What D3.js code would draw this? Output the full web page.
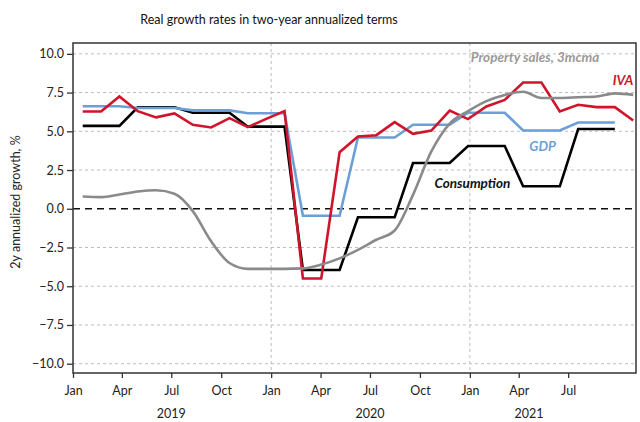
<!DOCTYPE html>
<html><head><meta charset="utf-8">
<script src="https://cdn.jsdelivr.net/npm/d3@7"></script>
<style>
body{margin:0;background:#fff;}
text{font-family:Lato,"Open Sans",sans-serif;}
</style>
</head><body>
<svg id="chart" width="640" height="422"></svg>
<script>
// ---- data ----
const months = ["2019-01","2019-02","2019-03","2019-04","2019-05","2019-06","2019-07","2019-08","2019-09","2019-10","2019-11","2019-12",
"2020-01","2020-02","2020-03","2020-04","2020-05","2020-06","2020-07","2020-08","2020-09","2020-10","2020-11","2020-12",
"2021-01","2021-02","2021-03","2021-04","2021-05","2021-06","2021-07"];
const iva = [6.28,6.28,7.25,6.3,5.9,6.15,5.42,5.25,5.85,5.27,5.8,6.3,
-4.5,-4.5,3.65,4.66,4.75,5.59,4.84,5.05,6.34,5.79,6.6,7.03,
8.15,8.15,6.28,6.71,6.56,6.56,5.7];
const gdp = [6.62,6.62,6.62,6.5,6.5,6.5,6.35,6.35,6.35,6.17,6.17,6.17,
-0.45,-0.45,-0.45,4.6,4.6,4.6,5.42,5.42,5.42,6.2,6.2,6.2,
5.05,5.05,5.05,5.57,5.57,5.57];
const consumption = [5.35,5.35,5.35,6.55,6.55,6.55,6.2,6.2,6.2,5.3,5.3,5.3,
-3.95,-3.95,-3.95,-0.55,-0.55,-0.55,2.95,2.95,2.95,4.05,4.05,4.05,
1.45,1.45,1.45,5.15,5.15,5.15];
const propertySales = [0.79,0.75,0.92,1.12,1.2,0.97,-0.15,-2.1,-3.5,-3.88,-3.88,-3.88,
-3.85,-3.6,-3.2,-2.65,-2.0,-1.4,0.9,3.7,5.5,6.3,6.95,7.35,
7.55,7.15,7.15,7.2,7.25,7.45,7.35];
const yTicks = [-10,-7.5,-5,-2.5,0,2.5,5,7.5,10];
const xTickDates = ["2019-01-01","2019-04-01","2019-07-01","2019-10-01","2020-01-01","2020-04-01","2020-07-01","2020-10-01","2021-01-01","2021-04-01","2021-07-01"];
const yearLabels = ["2019","2020","2021"];
const yearAnchors = ["2019-07-01","2020-07-01","2021-04-20"];
const vGridDates = ["2020-01-01","2021-01-01"];

// ---- layout ----
const svg = d3.select("#chart");
const L = 73, R = 636, T = 43, B = 373;
const parse = d3.utcParse("%Y-%m-%d");
const xAxisScale = d3.scaleUtc().domain([parse("2019-01-01"), parse("2021-11-03")]).range([L, R]);
const xData = d3.scaleLinear().domain([0, months.length - 1]).range([82.7, 633.2]);
const y = d3.scaleLinear().domain([-10.6, 10.7]).range([B, T]);

const colors = {iva:"#d0142c", gdp:"#6c9fd6", cons:"#000000", prop:"#8a8a8a"};

// title
svg.append("text").attr("x", 269).attr("y", 24).attr("text-anchor","middle")
  .attr("font-size", 12.5).attr("fill","#111")
  .text("Real growth rates in two-year annualized terms");

// grid
const g = svg.append("g");
g.selectAll(".hg").data(yTicks.filter(d => d !== 0)).join("line")
  .attr("x1", L).attr("x2", R).attr("y1", d => y(d)).attr("y2", d => y(d))
  .attr("stroke","#bdbdbd").attr("stroke-width",1).attr("stroke-dasharray","3,3");
g.selectAll(".vg").data(vGridDates).join("line")
  .attr("x1", d => xAxisScale(parse(d))).attr("x2", d => xAxisScale(parse(d)))
  .attr("y1", T).attr("y2", B)
  .attr("stroke","#bdbdbd").attr("stroke-width",1).attr("stroke-dasharray","3,3");
g.append("line").attr("x1", L).attr("x2", R).attr("y1", y(0)).attr("y2", y(0))
  .attr("stroke","#111").attr("stroke-width",1.5).attr("stroke-dasharray","7,5");

// series
const lineLin = d3.line().x((d,i) => xData(i)).y(d => y(d));
const lineSmooth = d3.line().x((d,i) => xData(i)).y(d => y(d)).curve(d3.curveMonotoneX);
const series = [
  {data: consumption, c: colors.cons, gen: lineLin},
  {data: gdp, c: colors.gdp, gen: lineLin},
  {data: iva, c: colors.iva, gen: lineLin},
  {data: propertySales, c: colors.prop, gen: lineSmooth}
];
series.forEach(s => {
  svg.append("path").attr("d", s.gen(s.data)).attr("fill","none")
    .attr("stroke", s.c).attr("stroke-width", 2.6).attr("stroke-linejoin","miter");
});

// frame
svg.append("rect").attr("x", L).attr("y", T).attr("width", R - L).attr("height", B - T)
  .attr("fill","none").attr("stroke","#333").attr("stroke-width",1.5);

// axes
const yAxis = d3.axisLeft(y).tickValues(yTicks).tickFormat(d3.format(".1f")).tickSize(6).tickPadding(3);
const ya = svg.append("g").attr("transform", `translate(${L},0)`).call(yAxis);
ya.select(".domain").remove();
ya.selectAll("line").attr("stroke","#333").attr("stroke-width",1.3);
ya.selectAll("text").attr("font-size",12.5).attr("fill","#222").style("font-family","Lato, sans-serif");

const xAxis = d3.axisBottom(xAxisScale).tickValues(xTickDates.map(parse))
  .tickFormat(d3.utcFormat("%b")).tickSize(5).tickPadding(8);
const xa = svg.append("g").attr("transform", `translate(0,${B})`).call(xAxis);
xa.select(".domain").remove();
xa.selectAll("line").attr("stroke","#333").attr("stroke-width",1.3);
xa.selectAll("text").attr("font-size",12.5).attr("fill","#222").style("font-family","Lato, sans-serif");

svg.selectAll(".year").data(yearLabels).join("text")
  .attr("x", (d,i) => xAxisScale(parse(yearAnchors[i]))).attr("y", 418)
  .attr("text-anchor","middle").attr("font-size",12.5).attr("fill","#222").text(d => d);

// y label
svg.append("text").attr("transform", `translate(20,${(T+B)/2 - 6}) rotate(-90)`)
  .attr("text-anchor","middle").attr("font-size",12.5).attr("fill","#222")
  .text("2y annualized growth, %");

// series labels
const labels = [
  {t:"Property sales, 3mcma", i:24.65, v:9.5, c:"#999999", a:"middle"},
  {t:"IVA", i:30, v:8.0, c:colors.iva, a:"end"},
  {t:"GDP", i:25.06, v:3.7, c:colors.gdp, a:"middle"},
  {t:"Consumption", i:21.24, v:1.35, c:"#111", a:"middle"}
];
svg.selectAll(".lbl").data(labels).join("text")
  .attr("x", d => xData(d.i)).attr("y", d => y(d.v))
  .attr("text-anchor", d => d.a).attr("fill", d => d.c)
  .attr("font-size", 13.5).attr("font-style","italic").attr("font-weight","bold")
  .text(d => d.t);
</script>
</body></html>
